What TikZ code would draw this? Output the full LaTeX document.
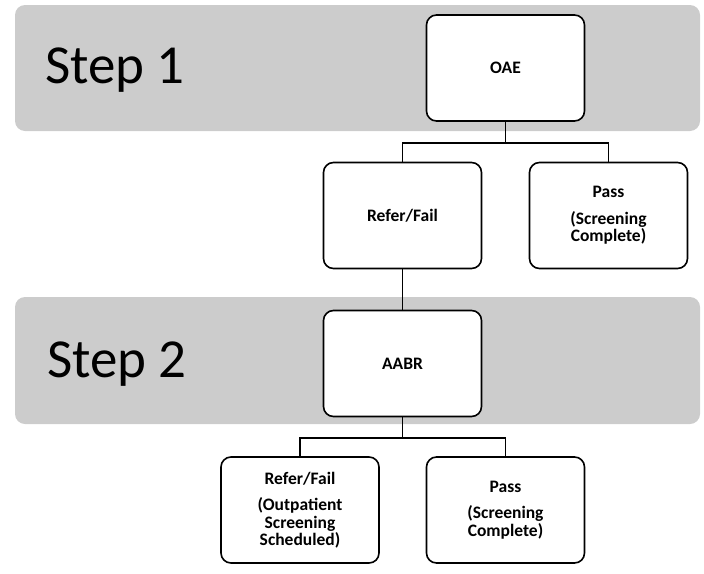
\documentclass[tikz,border=0pt]{standalone}
\usepackage{fontspec}
\setmainfont{Carlito}
\usepackage{tikz}
\usetikzlibrary{positioning}

\begin{document}
\begin{tikzpicture}[x=1pt,y=-1pt,
  band/.style={fill=gray!40,rounded corners=10pt,minimum width=685pt,inner sep=0pt},
  steplabel/.style={anchor=base west,inner sep=0pt,font=\fontsize{55}{60}\selectfont},
  box/.style={draw,fill=white,line width=1.6pt,rounded corners=10pt,minimum width=158pt,
    minimum height=106pt,inner sep=0pt,align=center,font=\bfseries\fontsize{17.5}{17.5}\selectfont},
  link/.style={line width=1.6pt}]
 \useasboundingbox (0,0) rectangle (704,573);
 \node[band,minimum height=126pt] (band1) at (357.5,68) {};
 \node[band,minimum height=127pt] (band2) at (357.5,360.5) {};
 \node[steplabel] (step1) at (45,83) {Step 1};
 \node[steplabel] (step2) at (47,377) {Step 2};
 \node[box] (oae) at (505.5,68) {OAE};
 \node[box] (refer1) at (402.5,215.5) {Refer/Fail};
 \node[box] (pass1) at (608.5,215.5) {Pass\\[9pt](Screening\\Complete)};
 \node[box] (aabr) at (402.5,363.5) {AABR};
 \node[box] (refer2) at (300,510) {Refer/Fail\\[9pt](Outpatient\\Screening\\Scheduled)};
 \node[box] (pass2) at (505.5,510) {Pass\\[9pt](Screening\\Complete)};
% step 1 branches
 \draw[link] (oae.south) -- ++(0,21) coordinate (fork1);
 \draw[link] (refer1.north) |- (fork1) -| (pass1.north);
 \draw[link] (refer1.south) -- (aabr.north);
% step 2 branches
 \draw[link] (aabr.south) -- ++(0,20.5) coordinate (fork2);
 \draw[link] (refer2.north) |- (fork2) -| (pass2.north);
\end{tikzpicture}
\end{document}
